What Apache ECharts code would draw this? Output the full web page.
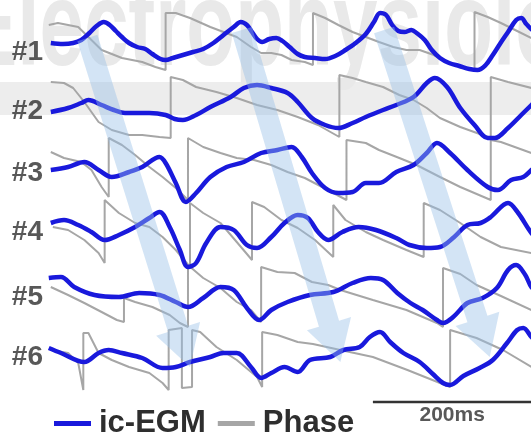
<!DOCTYPE html>
<html><head><meta charset="utf-8">
<script src="https://cdn.jsdelivr.net/npm/echarts@6/dist/echarts.min.js"></script>
<style>html,body{margin:0;padding:0;background:#fff}#c{width:531px;height:439px}</style>
</head><body><div id="c"></div>
<script>
// x: sample index (156 samples = 200 ms); y: amplitude (arb. units), channels stacked by offset
const channels = ['#1', '#2', '#3', '#4', '#5', '#6'];
const channelOffset = [0, -60, -120, -180, -240, -300];
const labelShift = [-2, -1, -3, -2, -7, -7];

const egm1 = [[0,7],[12,6],[22,7],[30,10],[38,17],[45,24],[52,28],[58,25],[64,19],[70,13],[77,7],[85,3],[93,1],[100,-4],[108,-9],[113,-10],[120,-8],[130,-5],[140,-2],[150,1],[160,7],[170,15],[180,23],[187,28],[193,25],[198,18],[203,11],[208,8],[215,11],[222,12],[228,9],[235,3],[243,-4],[250,-7],[260,-8],[270,-9],[280,-6],[290,0],[300,7],[310,16],[318,28],[324,37],[330,35],[336,25],[342,19],[348,18],[355,20],[360,17],[368,10],[375,0],[383,-8],[392,-13],[402,-16],[412,-19],[420,-20],[428,-15],[435,-5],[442,6],[450,18],[458,30],[463,32],[468,26],[474,20],[481,17]];
const phase1 = [[-2,25],[7,27],[17,25],[27,23],[37,13],[50,0],[70,-8],[90,-12],[103,-17],[113,-20],[113,37],[123,37],[137,32],[157,23],[170,18],[183,13],[197,3],[207,-3],[217,-3],[227,-5],[237,-10],[250,-12],[258,-15],[258,37],[270,32],[283,25],[297,18],[310,13],[323,8],[337,3],[350,0],[363,0],[377,-5],[390,-12],[403,-17],[417,-20],[417,38],[430,33],[443,27],[457,20],[473,12],[481,10]];

const egm2 = [[0,-2],[17,2],[30,7],[37,10],[50,5],[62,0],[73,-3],[97,-3],[113,-5],[122,-9],[130,-10],[143,-5],[157,3],[177,13],[190,22],[203,25],[217,22],[233,17],[243,8],[257,-8],[270,-15],[283,-18],[297,-13],[310,-7],[327,0],[340,5],[357,13],[370,27],[378,32],[390,23],[403,2],[417,-15],[430,-28],[437,-28],[450,-18],[463,-5],[473,5],[481,13]];
const phase2 = [[0,28],[13,27],[22,22],[33,8],[47,-12],[60,-20],[77,-25],[90,-25],[107,-27],[118,-28],[118,33],[130,30],[143,23],[163,18],[183,12],[203,5],[223,0],[243,-7],[263,-15],[284,-27],[284,35],[297,32],[310,28],[327,23],[343,15],[357,10],[370,2],[383,-8],[403,-17],[433,-28],[433,33],[450,28],[473,22],[481,19]];

const egm3 = [[0,0],[17,3],[33,8],[47,0],[60,-7],[77,-2],[90,3],[107,13],[113,7],[123,-13],[133,-32],[143,-23],[157,-7],[173,3],[190,8],[207,17],[223,20],[237,23],[247,13],[257,-3],[270,-18],[283,-23],[297,-22],[310,-13],[323,-13],[340,-2],[357,5],[370,17],[380,27],[393,17],[410,0],[430,-17],[440,-20],[453,-10],[465,-7],[473,0],[481,7]];
const phase3 = [[0,18],[13,12],[30,8],[40,0],[50,-17],[57,-27],[57,32],[70,25],[83,15],[97,3],[110,-7],[123,-18],[135,-30],[135,32],[150,23],[167,17],[183,12],[200,10],[217,5],[233,-2],[250,-8],[267,-17],[291,-30],[291,30],[310,27],[323,20],[343,12],[360,5],[383,-7],[403,-17],[433,-30],[433,30],[443,28],[473,17],[481,14]];

const egm4 = [[0,7],[13,10],[27,5],[40,-2],[53,-10],[67,-5],[83,3],[97,12],[107,18],[117,3],[127,-20],[135,-37],[143,-33],[153,-13],[167,3],[180,0],[193,-15],[203,-18],[217,-7],[230,7],[243,15],[253,12],[263,-2],[273,-10],[287,-2],[303,3],[320,0],[340,-8],[353,-15],[370,-18],[383,-17],[397,-7],[410,5],[423,7],[433,13],[450,27],[460,17],[473,-3],[481,-10]];
const phase4 = [[2,3],[17,0],[33,-10],[47,-23],[53,-33],[53,30],[67,17],[83,7],[97,3],[110,-7],[123,-20],[137,-37],[137,27],[150,17],[167,7],[183,-12],[198,-30],[198,28],[210,23],[227,10],[243,2],[260,-10],[278,-27],[278,25],[290,10],[310,-2],[327,-10],[350,-20],[367,-27],[367,27],[383,20],[403,7],[423,-7],[443,-17],[473,-23],[481,-25]];

const egm5 = [[-2,12],[10,13],[23,3],[43,-5],[67,-7],[87,-3],[107,-5],[123,-12],[135,-17],[150,-8],[167,3],[180,0],[193,-18],[205,-30],[217,-20],[233,-12],[255,-5],[278,-2],[297,7],[315,12],[327,10],[341,-3],[354,-13],[366,-20],[380,-30],[386,-33],[396,-27],[410,-13],[425,-8],[439,2],[450,20],[458,25],[467,15],[473,3],[481,-3]];
const phase5 = [[0,3],[17,-5],[33,-13],[50,-22],[65,-30],[72,-32],[72,-8],[83,-12],[100,-17],[117,-25],[127,-33],[135,-37],[135,25],[150,12],[167,2],[183,-12],[197,-20],[207,-32],[207,23],[223,18],[240,17],[257,8],[273,5],[285,0],[317,-10],[350,-20],[380,-33],[386,-37],[386,22],[403,16],[419,5],[443,-6],[473,-20],[481,-24]];

const egm6 = [[-2,2],[10,-3],[33,-12],[47,-3],[57,0],[70,-3],[90,-8],[110,-18],[123,-17],[137,-12],[157,-7],[170,-3],[183,-3],[197,-17],[207,-28],[217,-23],[230,-17],[243,-22],[255,-10],[275,-7],[288,0],[304,3],[314,13],[324,18],[334,8],[347,-3],[363,-12],[376,-24],[386,-33],[393,-35],[406,-26],[422,-18],[435,-10],[449,7],[459,20],[465,22],[473,13],[481,5]];
const phase6 = [[0,0],[17,-3],[27,-13],[32,-40],[32,17],[37,17],[47,-3],[60,-10],[77,-17],[97,-23],[110,-33],[116,-40],[116,20],[129,22],[129,-38],[139,-37],[139,20],[147,18],[163,3],[183,-10],[203,-27],[208,-37],[208,18],[223,15],[243,8],[258,6],[285,0],[317,-7],[351,-20],[383,-33],[393,-37],[393,20],[419,12],[445,0],[473,-17],[481,-20]];

// propagation arrows (start / tip, in axis units)
const arrowFrom = [[36,12],[188,20],[328,20]];
const arrowTo = [[137,-317],[285,-312],[432,-307]];

const bandRange = [-32, -65];
const scaleBarStart = 317, scaleBarLength = 156, scaleBarLevel = -352, scaleBarText = '200ms';

const egmList = [egm1, egm2, egm3, egm4, egm5, egm6];
const phaseList = [phase1, phase2, phase3, phase4, phase5, phase6];
const FONT = '"Liberation Sans", Arial, sans-serif';
const BLUE = '#1919dc', GRAY = '#a6a6a6', TEXT = '#2e2e2e';

const shift = (arr, off) => arr.map(p => [p[0], p[1] + off]);

const series = [];
series.push({
  type: 'custom', z: 0, silent: true,
  data: [bandRange],
  encode: { y: [0, 1] },
  renderItem: (params, api) => {
    const cs = params.coordSys;
    const y0 = api.coord([0, api.value(0)])[1];
    const y1 = api.coord([0, api.value(1)])[1];
    return { type: 'rect', shape: { x: cs.x, y: y0, width: cs.width, height: y1 - y0 }, style: { fill: '#ededed' } };
  }
});
phaseList.forEach((d, i) => series.push({
  name: 'Phase', type: 'line', z: 3, data: shift(d, channelOffset[i]),
  showSymbol: false, symbol: 'none', smooth: false,
  lineStyle: { color: GRAY, width: 2 }, itemStyle: { color: GRAY }
}));
egmList.forEach((d, i) => series.push({
  name: 'ic-EGM', type: 'line', z: 4, data: shift(d, channelOffset[i]),
  showSymbol: false, symbol: 'none', smooth: 0.35,
  lineStyle: { color: BLUE, width: 4.5 }, itemStyle: { color: BLUE }
}));
series.push({
  type: 'scatter', z: 5, symbolSize: 0, silent: true,
  data: channels.map((c, i) => ({ value: [-7.7, channelOffset[i] + labelShift[i]], name: c })),
  label: { show: true, position: 'left', distance: 0, formatter: p => p.name,
    fontFamily: FONT, fontSize: 28, fontWeight: 'bold', color: TEXT }
});
series.push({
  type: 'line', z: 5, silent: true, symbol: 'none',
  data: [[scaleBarStart, scaleBarLevel], [scaleBarStart + scaleBarLength, scaleBarLevel]],
  lineStyle: { color: '#333', width: 2.5 }
});
series.push({
  type: 'scatter', z: 5, symbolSize: 0, silent: true,
  data: [[scaleBarStart + scaleBarLength / 2, scaleBarLevel]],
  label: { show: true, position: 'bottom', distance: 3, formatter: scaleBarText,
    fontFamily: FONT, fontSize: 21, fontWeight: 'bold', color: TEXT }
});
series.push({
  type: 'custom', z: 10, silent: true,
  data: arrowFrom.map((f, i) => [f[0], f[1], arrowTo[i][0], arrowTo[i][1]]),
  renderItem: (params, api) => {
    const p0 = api.coord([api.value(0), api.value(1)]);
    const p1 = api.coord([api.value(2), api.value(3)]);
    const dx = p1[0] - p0[0], dy = p1[1] - p0[1];
    const len = Math.hypot(dx, dy);
    const ux = dx / len, uy = dy / len, nx = -uy, ny = ux;
    const sw = 10.5, hw = 23, hl = 40;
    const bx = p1[0] - ux * hl, by = p1[1] - uy * hl;
    const pts = [
      [p0[0] + nx * sw, p0[1] + ny * sw],
      [bx + nx * sw, by + ny * sw],
      [bx + nx * hw, by + ny * hw],
      [p1[0], p1[1]],
      [bx - nx * hw, by - ny * hw],
      [bx - nx * sw, by - ny * sw],
      [p0[0] - nx * sw, p0[1] - ny * sw]
    ];
    return { type: 'polygon', shape: { points: pts }, style: { fill: 'rgba(150,190,230,0.42)' } };
  }
});

const chart = echarts.init(document.getElementById('c'), null, { renderer: 'canvas' });
chart.setOption({
  animation: false,
  backgroundColor: '#ffffff',
  grid: { left: 0, right: 0, top: 0, bottom: 0 },
  xAxis: { type: 'value', min: -50, max: 472.6, show: false },
  yAxis: { type: 'value', min: -389, max: 50, show: false },
  graphic: [{
    type: 'text', x: -36, y: 32, scaleY: 1.5, z: 1, silent: true,
    style: { text: 'Electrophysiology', font: 'bold 80px ' + FONT, fill: '#e9e9e9',
      verticalAlign: 'middle', textVerticalAlign: 'middle' }
  }],
  legend: {
    data: ['ic-EGM', 'Phase'], left: 54, top: 406.5, padding: 0,
    icon: 'rect', itemWidth: 37, itemHeight: 5, itemGap: 12,
    textStyle: { fontFamily: FONT, fontSize: 31, fontWeight: 'bold', color: TEXT, lineHeight: 34, padding: [0, 0, 0, 3] }
  },
  series
});
</script></body></html>
